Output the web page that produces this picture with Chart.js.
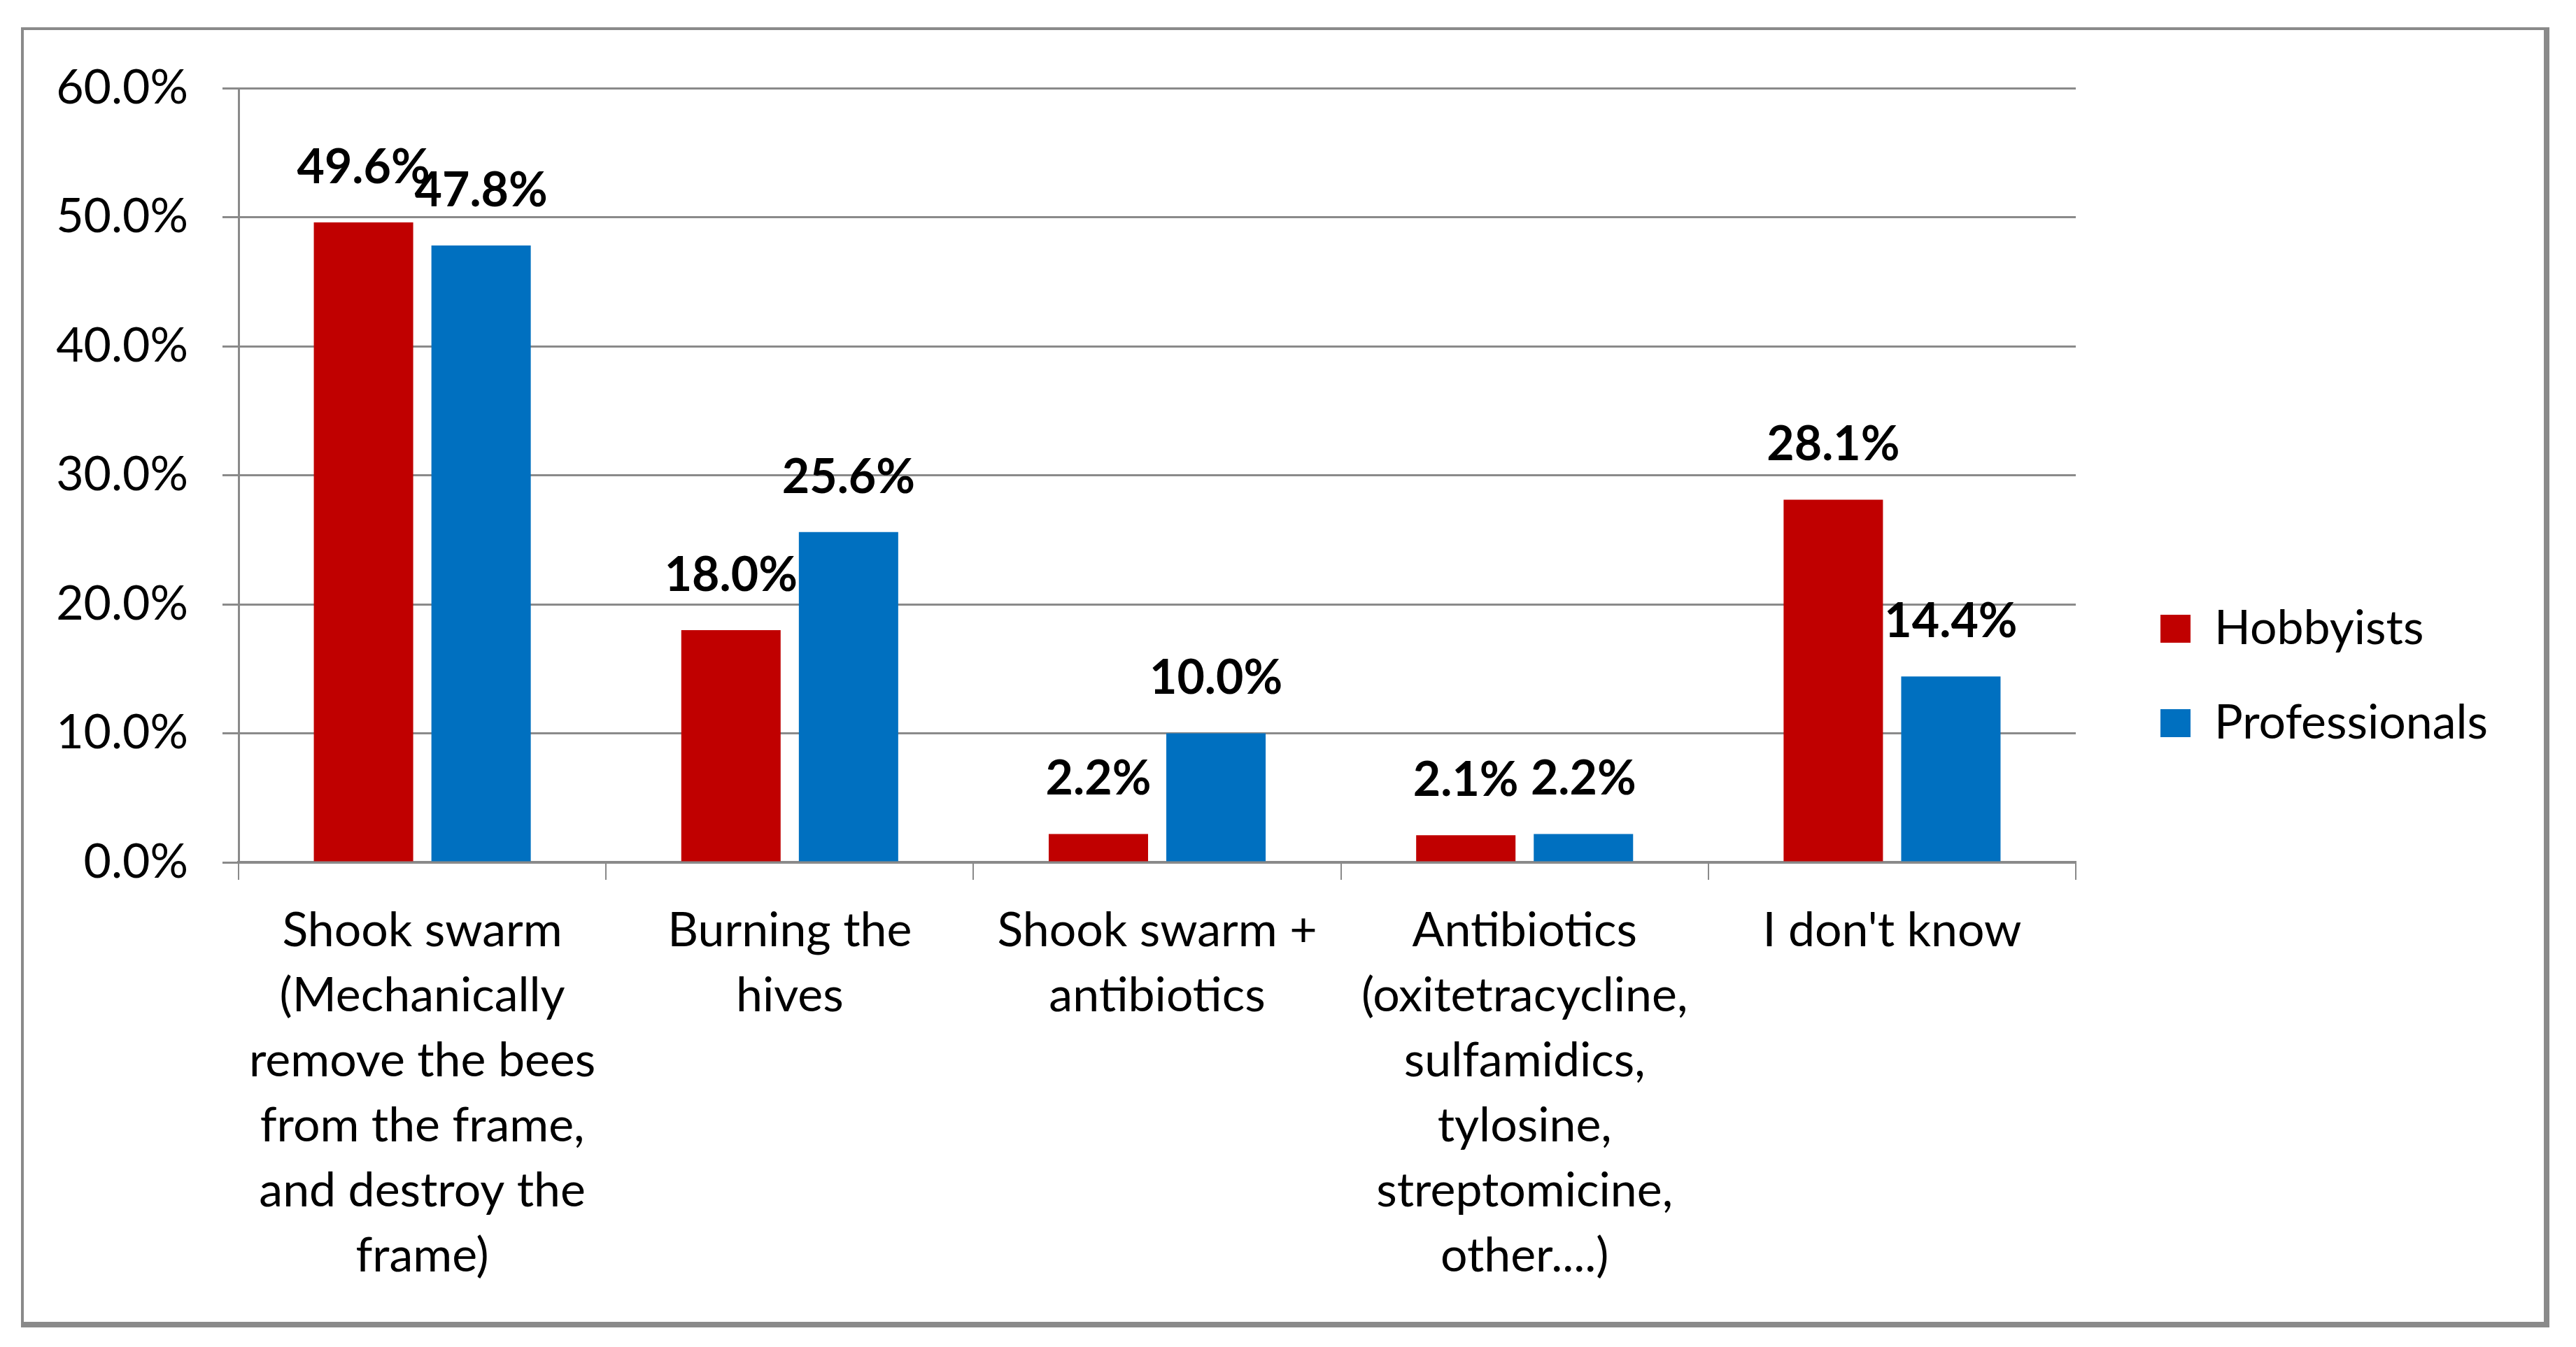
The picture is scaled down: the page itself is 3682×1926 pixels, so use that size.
<!DOCTYPE html>
<html>
<head>
<meta charset="utf-8">
<script src="https://cdn.jsdelivr.net/npm/chart.js@4.4.1/dist/chart.umd.min.js"></script>
<style>
  html, body { margin: 0; padding: 0; background: #fff; }
  #box {
    position: absolute; left: 30px; top: 39px;
    width: 3602px; height: 1847px;
    border-left: 4px solid #8a8a8a; border-top: 4px solid #8a8a8a;
    border-right: 8px solid #8a8a8a; border-bottom: 8px solid #8a8a8a;
  }
</style>
</head>
<body>
<div id="box"><canvas id="grafico"></canvas></div>
<script>
// categorias e valores
const categorias = [
    ['Shook swarm', '(Mechanically', 'remove the bees', 'from the frame,', 'and destroy the', 'frame)'],
    ['Burning the', 'hives'],
    ['Shook swarm +', 'antibiotics'],
    ['Antibiotics', '(oxitetracycline,', 'sulfamidics,', 'tylosine,', 'streptomicine,', 'other....)'],
    ["I don't know"]
];
const series = ['Hobbyists', 'Professionals'];
const hobbyists = [49.6, 18.0, 2.2, 2.1, 28.1];
const professionals = [47.8, 25.6, 10.0, 2.2, 14.4];
const yTicks = [0, 10, 20, 30, 40, 50, 60];

const fonte = 'Lato';
const cinza = '#8a8a8a';

// rótulos de valor acima das barras
const rotulosValor = {
    id: 'rotulosValor',
    afterDatasetsDraw(chart) {
        const ctx = chart.ctx;
        ctx.save();
        ctx.font = 'bold 68px ' + fonte;
        ctx.fillStyle = '#000';
        ctx.textAlign = 'center';
        ctx.textBaseline = 'middle';
        chart.data.datasets.forEach((ds, i) => {
            chart.getDatasetMeta(i).data.forEach((bar, j) => {
                ctx.fillText(ds.data[j].toFixed(1) + '%', bar.x, bar.y - 78);
            });
        });
        ctx.restore();
    }
};

// eixos vazios, só para reservar espaço
const vazio = (lado, tamanho) => ({
    position: lado,
    display: true,
    grid: { display: false },
    border: { display: false },
    ticks: { display: false },
    afterFit: (escala) => {
        if (lado === 'top') escala.height = tamanho; else escala.width = tamanho;
    }
});

const ctx = document.getElementById('grafico').getContext('2d');
new Chart(ctx, {
    type: 'bar',
    data: {
        labels: categorias,
        datasets: [
            { label: series[0], data: hobbyists, backgroundColor: '#C00000', categoryPercentage: 0.64, barPercentage: 0.845 },
            { label: series[1], data: professionals, backgroundColor: '#0070C0', categoryPercentage: 0.64, barPercentage: 0.845 }
        ]
    },
    options: {
        responsive: true,
        maintainAspectRatio: false,
        animation: false,
        layout: { padding: { left: 0, top: 0, right: 70, bottom: 0 } },
        scales: {
            x: {
                grid: { drawOnChartArea: false, drawTicks: true, tickLength: 25, color: cinza, lineWidth: 2 },
                border: { color: cinza, width: 4 },
                ticks: {
                    autoSkip: false, maxRotation: 0, padding: 26, color: '#000',
                    font: { family: fonte, size: 68, lineHeight: 1.37 }
                },
                afterFit: (escala) => { escala.height = 657; }
            },
            y: {
                min: 0, max: 60,
                afterBuildTicks: (escala) => { escala.ticks = yTicks.map(v => ({ value: v })); },
                grid: { color: cinza, lineWidth: 3, tickLength: 23 },
                border: { color: cinza, width: 3 },
                ticks: {
                    padding: 49, color: '#000',
                    font: { family: fonte, size: 68 },
                    callback: (v) => v.toFixed(1) + '%'
                },
                afterFit: (escala) => {
                    escala.width = 307;
                    // o padding dos ticks não deve empurrar a área do gráfico
                    escala.paddingTop = 0;
                    escala.paddingBottom = 0;
                }
            },
            topo: vazio('top', 83),
            espaco: vazio('right', 54)
        },
        plugins: {
            tooltip: { enabled: false },
            legend: {
                position: 'right',
                align: 'center',
                labels: {
                    boxWidth: 43, boxHeight: 40, padding: 67, color: '#000',
                    font: { family: fonte, size: 68 }
                }
            }
        }
    },
    plugins: [rotulosValor]
});
</script>
</body>
</html>
